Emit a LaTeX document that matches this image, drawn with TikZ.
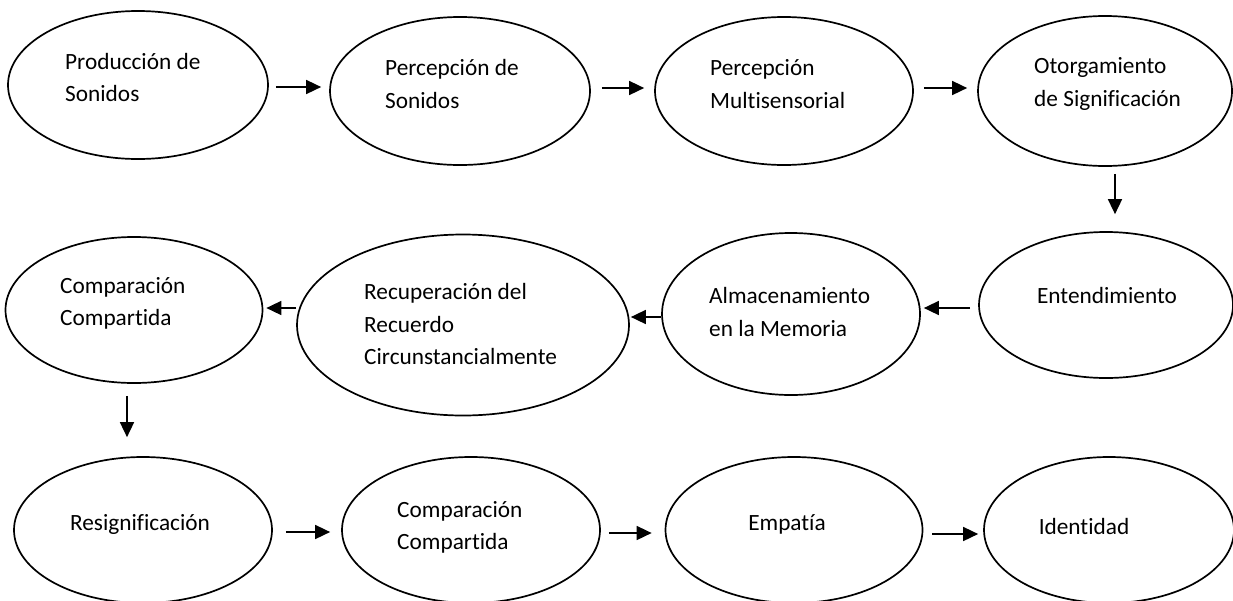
\documentclass[tikz,border=0pt]{standalone}
\usepackage{fontspec}
\setmainfont{Carlito}[Ligatures=NoCommon]
\usetikzlibrary{shapes.geometric,arrows.meta}
\tikzset{
  oval/.style={ellipse, draw=black, line width=1.7pt, inner sep=0pt},
  lbl/.style={inner sep=0pt, align=left, font=\fontsize{23.3}{32.5}\selectfont},
  arr/.style={line width=1.6pt, -{Triangle[length=15pt,width=14pt]}}
}
\begin{document}
\begin{tikzpicture}[x=1pt,y=-1pt]
\useasboundingbox (0,0) rectangle (1233,600);
% ellipses
\node[oval, minimum width=260pt, minimum height=148pt] (e1) at (138,85) {};
\node[oval, minimum width=260pt, minimum height=148pt] (e2) at (460,91) {};
\node[oval, minimum width=258pt, minimum height=148pt] (e3) at (784,91) {};
\node[oval, minimum width=254pt, minimum height=150pt] (e4) at (1105,91) {};
\node[oval, minimum width=254pt, minimum height=146pt] (e5) at (1106,305) {};
\node[oval, minimum width=258pt, minimum height=162pt] (e6) at (791,314) {};
\node[oval, minimum width=332pt, minimum height=181pt] (e7) at (463,325) {};
\node[oval, minimum width=257pt, minimum height=146pt] (e8) at (134,310) {};
\node[oval, minimum width=258pt, minimum height=146pt] (e9) at (143,530) {};
\node[oval, minimum width=258pt, minimum height=146pt] (e10) at (471,530) {};
\node[oval, minimum width=257pt, minimum height=146pt] (e11) at (794,530) {};
\node[oval, minimum width=250pt, minimum height=146pt] (e12) at (1109,530) {};
% labels
\node[lbl, anchor=west] (t1) at (65,77.5) {Producción de\\Sonidos};
\node[lbl, anchor=west] (t2) at (385,84) {Percepción de\\Sonidos};
\node[lbl, anchor=west] (t3) at (710,84) {Percepción\\Multisensorial};
\node[lbl, anchor=west] (t4) at (1034,84) {Otorgamiento\\de Significación};
\node[lbl] (t5) at (1107,295) {Entendimiento};
\node[lbl, anchor=west] (t6) at (709,312) {Almacenamiento\\en la Memoria};
\node[lbl, anchor=west] (t7) at (364,324) {Recuperación del\\Recuerdo\\Circunstancialmente};
\node[lbl, anchor=west] (t8) at (60,303.5) {Comparación\\Compartida};
\node[lbl] (t9) at (140,524) {Resignificación};
\node[lbl, anchor=west] (t10) at (397,527.5) {Comparación\\Compartida};
\node[lbl] (t11) at (787,524) {Empatía};
\node[lbl] (t12) at (1084,526) {Identidad};
% arrows
\draw[arr, shorten <=7pt, shorten >=8pt] ([yshift=-2pt]e1.east) -- ([yshift=-2pt]e1.east -| e2.west);
\draw[arr, shorten <=11pt, shorten >=10pt] ([yshift=3pt]e2.east) -- ([yshift=3pt]e2.east -| e3.west);
\draw[arr, shorten <=10pt, shorten >=10pt] ([yshift=3pt]e3.east) -- ([yshift=3pt]e3.east -| e4.west);
\draw[arr, shorten <=7pt, shorten >=17pt] ([xshift=10pt]e4.south) -- ([xshift=10pt]e4.south |- e5.north);
\draw[arr, shorten <=8pt, shorten >=3pt] ([yshift=-3pt]e5.west) -- ([yshift=-3pt]e5.west -| e6.east);
\draw[arr, shorten >=1pt] ([yshift=-3pt]e6.west) -- ([yshift=-3pt]e6.west -| e7.east);
\draw[arr, shorten >=3pt] ([yshift=2pt]e8.east -| e7.west) -- ([yshift=2pt]e8.east);
\draw[arr, shorten <=12pt, shorten >=19pt] ([xshift=-7pt]e8.south) -- ([xshift=-7pt]e8.south |- e9.north);
\draw[arr, shorten <=13pt, shorten >=11pt] ([yshift=-2pt]e9.east) -- ([yshift=-2pt]e9.east -| e10.west);
\draw[arr, shorten <=8pt, shorten >=13pt] ([yshift=-3pt]e10.east) -- ([yshift=-3pt]e10.east -| e11.west);
\draw[arr, shorten <=9pt, shorten >=5pt] ([yshift=-4pt]e11.east) -- ([yshift=-4pt]e11.east -| e12.west);
\end{tikzpicture}
\end{document}
